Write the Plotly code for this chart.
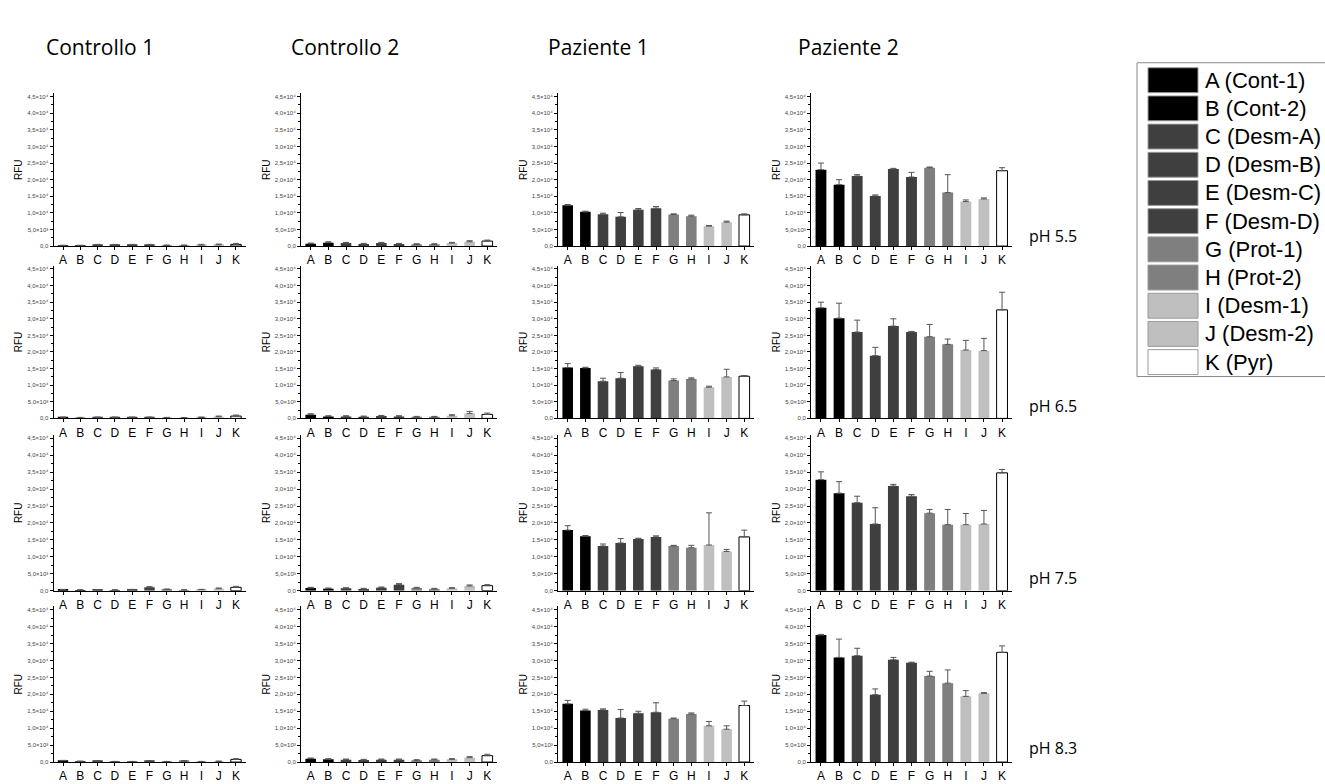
import plotly.graph_objects as go

W, H = 1325, 784

categories = list("ABCDEFGHIJK")
legend_labels = ["A (Cont-1)", "B (Cont-2)", "C (Desm-A)", "D (Desm-B)", "E (Desm-C)",
                 "F (Desm-D)", "G (Prot-1)", "H (Prot-2)", "I (Desm-1)", "J (Desm-2)", "K (Pyr)"]
bar_colors = ["#000000", "#000000", "#3f3f3f", "#3f3f3f", "#3f3f3f", "#3f3f3f",
              "#7f7f7f", "#7f7f7f", "#bfbfbf", "#bfbfbf", "#ffffff"]
column_titles = ["Controllo 1", "Controllo 2", "Paziente 1", "Paziente 2"]
ph_labels = ["pH 5.5", "pH 6.5", "pH 7.5", "pH 8.3"]

ytick_vals = [0, 5000, 10000, 15000, 20000, 25000, 30000, 35000, 40000, 45000]
ytick_text = ["0,0", "5,0×10³", "1,0×10⁴", "1,5×10⁴", "2,0×10⁴", "2,5×10⁴",
              "3,0×10⁴", "3,5×10⁴", "4,0×10⁴", "4,5×10⁴"]
yminor_vals = [2500, 7500, 12500, 17500, 22500, 27500, 32500, 37500, 42500]

# ---- values (RFU) per column, rows = pH 5.5, 6.5, 7.5, 8.3 ----
ctrl1_values = [
    [150, 150, 300, 300, 300, 300, 200, 200, 300, 400, 500],
    [300, 200, 300, 300, 300, 300, 200, 150, 300, 500, 700],
    [300, 200, 250, 200, 300, 1000, 400, 200, 300, 600, 1000],
    [400, 200, 300, 100, 100, 300, 100, 300, 100, 200, 800],
]
ctrl1_errors = [
    [100, 100, 200, 200, 200, 200, 100, 100, 200, 200, 300],
    [100, 100, 100, 100, 100, 100, 100, 100, 100, 200, 300],
    [100, 100, 100, 100, 100, 200, 100, 100, 100, 200, 300],
    [100, 100, 100, 100, 100, 100, 100, 100, 100, 100, 200],
]
ctrl2_values = [
    [700, 1000, 900, 600, 900, 600, 500, 500, 900, 1300, 1500],
    [1100, 600, 600, 500, 700, 600, 400, 400, 800, 1500, 1200],
    [800, 600, 700, 500, 900, 1800, 800, 500, 700, 1400, 1500],
    [1000, 800, 700, 600, 700, 700, 500, 700, 800, 1300, 1900],
]
ctrl2_errors = [
    [200, 300, 200, 200, 200, 200, 200, 200, 200, 300, 300],
    [300, 200, 200, 200, 200, 200, 200, 200, 300, 600, 400],
    [200, 200, 200, 200, 200, 300, 200, 200, 200, 300, 300],
    [200, 200, 200, 200, 200, 200, 200, 200, 200, 300, 400],
]
paz1_values = [
    [12300, 10300, 9600, 8800, 10900, 11400, 9500, 9000, 6000, 7200, 9400],
    [15300, 15200, 11200, 12100, 15700, 14700, 11400, 11900, 9400, 12500, 12700],
    [17900, 16100, 13200, 14100, 15300, 15900, 13200, 12700, 13500, 11600, 15900],
    [17200, 15200, 15400, 13000, 14400, 14700, 12800, 14200, 10700, 9700, 16700],
]
paz1_errors = [
    [200, 200, 300, 1300, 400, 500, 200, 300, 200, 300, 300],
    [1200, 200, 900, 1700, 300, 500, 500, 300, 300, 2300, 200],
    [1300, 200, 600, 1300, 200, 300, 200, 700, 9500, 600, 2000],
    [1000, 400, 300, 2500, 600, 2800, 200, 300, 1300, 1000, 1300],
]
paz2_values = [
    [23000, 18500, 21100, 15100, 23200, 20800, 23600, 16100, 13400, 14200, 22700],
    [33300, 30200, 26000, 18900, 27800, 26000, 24600, 22300, 20600, 20400, 32700],
    [32800, 28800, 26000, 19700, 30900, 27900, 22900, 19500, 19500, 19700, 34800],
    [37500, 30900, 31400, 19900, 30200, 29300, 25400, 23300, 19400, 20300, 32400],
]
paz2_errors = [
    [2000, 1500, 400, 300, 200, 1400, 200, 5400, 500, 300, 900],
    [1700, 4500, 3600, 2500, 2200, 200, 3700, 1600, 2900, 3700, 5300],
    [2300, 3400, 1900, 4800, 500, 500, 1100, 4500, 3300, 4000, 1000],
    [200, 5400, 2200, 1700, 700, 200, 1400, 3900, 1700, 200, 1900],
]
all_values = [ctrl1_values, ctrl2_values, paz1_values, paz2_values]
all_errors = [ctrl1_errors, ctrl2_errors, paz1_errors, paz2_errors]

# ---- layout geometry (pixels) ----
col_x0 = [53.5, 301, 558, 811]
col_w = [192, 196, 196, 201]
row_bottom = [247, 420, 593, 765]
row_top = [93.7, 266.7, 436.6, 608.6]
y_max = 46000

fig = go.Figure()
layout = {}
n = 0
for c in range(4):
    for r in range(4):
        n += 1
        ax = "" if n == 1 else str(n)
        fig.add_trace(go.Bar(
            x=categories, y=all_values[c][r],
            xaxis="x" + ax, yaxis="y" + ax,
            marker=dict(color=bar_colors,
                        line=dict(color=["rgba(0,0,0,0)"] * 10 + ["#000000"],
                                  width=[0] * 10 + [1])),
            error_y=dict(type="data", symmetric=False, array=all_errors[c][r],
                         arrayminus=[0] * 11, color="#555555", thickness=1, width=3),
            showlegend=False, hoverinfo="x+y",
        ))
        x0 = col_x0[c]
        layout["xaxis" + ax] = dict(
            domain=[x0 / W, (x0 + col_w[c]) / W], anchor="y" + ax,
            range=[-0.55, 10.55], type="category",
            showline=True, linecolor="#000000", linewidth=1,
            ticks="outside", ticklen=3, tickcolor="#000000",
            tickfont=dict(family="Liberation Sans", size=12, color="#000000"),
            showgrid=False, zeroline=False, fixedrange=True,
        )
        layout["yaxis" + ax] = dict(
            domain=[1 - row_bottom[r] / H, 1 - row_top[r] / H], anchor="x" + ax,
            range=[0, y_max], tickvals=ytick_vals, ticktext=ytick_text,
            showline=True, linecolor="#000000", linewidth=1,
            ticks="outside", ticklen=3, tickcolor="#000000",
            minor=dict(tickvals=yminor_vals, ticks="outside", ticklen=2, tickcolor="#000000"),
            tickfont=dict(family="Liberation Sans", size=6, color="#444444"),
            title=dict(text="RFU", font=dict(family="Liberation Sans", size=10, color="#000000"),
                       standoff=2),
            showgrid=False, zeroline=False, fixedrange=True,
        )

annotations = []
title_x = [100, 345, 598, 848]
for c, t in enumerate(column_titles):
    annotations.append(dict(text=t, x=title_x[c] / W, y=1 - 47 / H, xref="paper", yref="paper",
                            showarrow=False, xanchor="center", yanchor="middle",
                            font=dict(family="Open Sans", size=21, color="#000000")))
ph_y = [237, 408, 580, 751]
for r, t in enumerate(ph_labels):
    annotations.append(dict(text=t, x=1027 / W, y=1 - ph_y[r] / H, xref="paper", yref="paper",
                            showarrow=False, xanchor="left", yanchor="middle",
                            font=dict(family="Open Sans", size=16, color="#000000")))

# ---- custom legend (large swatches) ----
shapes = []
leg_left, leg_top, leg_bottom = 1137, 63, 378
shapes.append(dict(type="rect", xref="paper", yref="paper",
                   x0=leg_left / W, x1=1.02, y0=1 - leg_bottom / H, y1=1 - leg_top / H,
                   line=dict(color="#8a8a8a", width=1), fillcolor="#ffffff", layer="below"))
sw_x0, sw_x1, sw_y0, sw_h, sw_step = 1148, 1198, 68, 25, 28.3
for i, lab in enumerate(legend_labels):
    y0 = sw_y0 + i * sw_step
    shapes.append(dict(type="rect", xref="paper", yref="paper",
                       x0=sw_x0 / W, x1=sw_x1 / W, y0=1 - (y0 + sw_h) / H, y1=1 - y0 / H,
                       line=dict(color="#9a9a9a", width=1), fillcolor=bar_colors[i]))
    annotations.append(dict(text=lab, x=1203 / W, y=1 - (y0 + sw_h / 2) / H,
                            xref="paper", yref="paper", showarrow=False,
                            xanchor="left", yanchor="middle",
                            font=dict(family="Liberation Sans", size=22, color="#000000")))

fig.update_layout(
    **layout,
    width=W, height=H,
    margin=dict(l=0, r=0, t=0, b=0),
    paper_bgcolor="#ffffff", plot_bgcolor="#ffffff",
    bargap=0.4,
    annotations=annotations, shapes=shapes,
    showlegend=False,
)

fig.write_html("out.html")
